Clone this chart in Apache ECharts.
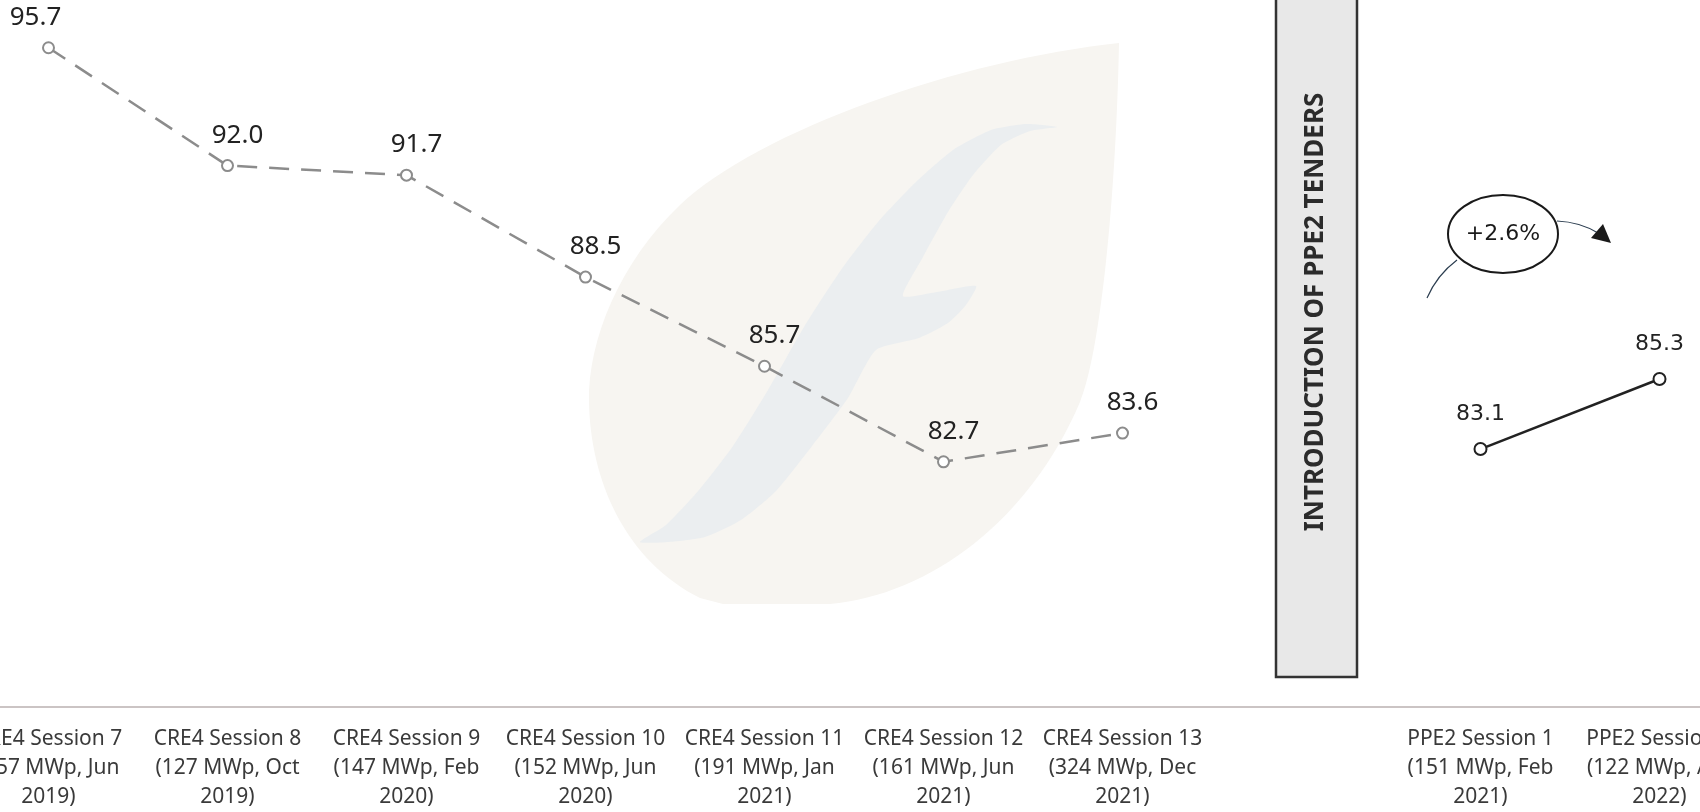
<!doctype html>
<html lang="en">
<head>
    <meta charset="UTF-8">
    <title>CRE4 / PPE2 sessions</title>
    <script src="https://cdn.jsdelivr.net/npm/echarts@6/dist/echarts.min.js"></script>
    <style>
        html, body { margin: 0; padding: 0; background: #fff; }
        #chart { width: 1700px; height: 812px; }
    </style>
</head>
<body>
<div id="chart"></div>
<script type="text/javascript">
    // tender sessions (the empty slot is where the PPE2 banner sits)
    const categories = [
        'CRE4 Session 7\n(157 MWp, Jun\n2019)',
        'CRE4 Session 8\n(127 MWp, Oct\n2019)',
        'CRE4 Session 9\n(147 MWp, Feb\n2020)',
        'CRE4 Session 10\n(152 MWp, Jun\n2020)',
        'CRE4 Session 11\n(191 MWp, Jan\n2021)',
        'CRE4 Session 12\n(161 MWp, Jun\n2021)',
        'CRE4 Session 13\n(324 MWp, Dec\n2021)',
        '',
        'PPE2 Session 1\n(151 MWp, Feb\n2021)',
        'PPE2 Session 2\n(122 MWp, Apr\n2022)'
    ];
    const cre4Values = [95.7, 92.0, 91.7, 88.5, 85.7, 82.7, 83.6, '-', '-', '-'];
    const ppe2Values = ['-', '-', '-', '-', '-', '-', '-', '-', 83.1, 85.3];
    const bannerText = 'INTRODUCTION OF PPE2 TENDERS';
    const changeText = '+2.6%';

    // leaf watermark outline
    echarts.graphic.registerShape('leaf', echarts.graphic.extendPath(
        'M1119 43 C 960 60, 760 130, 680 205 C 620 262, 588 340, 589 401 ' +
        'C 590 480, 625 560, 700 598 L 723 604 L 830 604 C 930 595, 1030 520, 1080 402 ' +
        'C 1100 355, 1116 200, 1119 43 Z', {}));

    let chart = echarts.init(document.getElementById('chart'));
    let fmt = function (p) { return Number(p.value).toFixed(1); };

    chart.setOption({
        backgroundColor: '#ffffff',
        animation: false,
        grid: { left: -41, top: 0, width: 1790, height: 707, outerBoundsMode: 'none', containLabel: false },
        xAxis: {
            type: 'category',
            data: categories,
            axisLine: { lineStyle: { color: '#cbc4c4', width: 2 } },
            axisTick: { show: false },
            axisLabel: {
                interval: 0,
                hideOverlap: false,
                margin: 18,
                color: '#3a3a3a',
                fontFamily: 'Noto Sans',
                fontSize: 21,
                lineHeight: 29
            }
        },
        yAxis: {
            type: 'value',
            min: 75,
            max: 97.2,
            show: false,
            splitLine: { show: false }
        },
        graphic: [
            {
                type: 'leaf', z: -20,
                shape: {},
                style: { fill: '#f7f5f1' }
            },
            {
                type: 'polygon', z: -19,
                shape: {
                    smooth: 0.2,
                    points: [[1057, 127], [1026, 124], [991, 130], [953, 150], [916, 182], [878, 222], [841, 270],
                        [804, 327], [768, 390], [733, 446], [699, 490], [666, 525], [640, 542],
                        [669, 542], [705, 537], [741, 520], [776, 491], [812, 446], [848, 398], [876, 350],
                        [919, 338], [948, 323], [966, 305], [976, 286], [937, 292], [903, 296],
                        [923, 257], [948, 212], [973, 175], [1001, 145], [1030, 131]]
                },
                style: { fill: '#ebeef0' }
            },
            {
                type: 'rect', z: 10,
                shape: { x: 1276, y: -5, width: 81, height: 682 },
                style: { fill: '#e8e8e8', stroke: '#333333', lineWidth: 2.5 }
            },
            {
                type: 'text', z: 11,
                x: 1316, y: 312, rotation: Math.PI / 2,
                style: {
                    text: bannerText, x: 0, y: 0,
                    align: 'center', verticalAlign: 'middle',
                    textAlign: 'center', textVerticalAlign: 'middle',
                    font: 'bold 26px "Noto Sans"', fill: '#2b2b2b'
                }
            },
            {
                type: 'bezierCurve', z: 10,
                shape: { x1: 1427, y1: 298, x2: 1457, y2: 260, cpx1: 1437, cpy1: 275 },
                style: { stroke: '#2c3e50', lineWidth: 1.2, fill: null }
            },
            {
                type: 'bezierCurve', z: 10,
                shape: { x1: 1557, y1: 221, x2: 1598, y2: 233, cpx1: 1580, cpy1: 222 },
                style: { stroke: '#2c3e50', lineWidth: 1.2, fill: null }
            },
            {
                type: 'polygon', z: 10,
                shape: { points: [[1611, 243], [1591, 238], [1603, 224]] },
                style: { fill: '#1a1a1a' }
            },
            {
                type: 'ellipse', z: 11,
                shape: { cx: 1503, cy: 234, rx: 55, ry: 39 },
                style: { fill: '#ffffff', stroke: '#1a1a1a', lineWidth: 2 }
            },
            {
                type: 'text', z: 12,
                x: 1503, y: 234,
                style: {
                    text: changeText, x: 0, y: 0,
                    align: 'center', verticalAlign: 'middle',
                    textAlign: 'center', textVerticalAlign: 'middle',
                    font: '22px "DejaVu Sans"', fill: '#1a1a1a'
                }
            }
        ],
        series: [
            {
                name: 'CRE4',
                type: 'line',
                data: cre4Values.map(function (v, i) {
                    return i === 0 ? { value: v, label: { offset: [-13, 0] } } : v;
                }),
                symbol: 'emptyCircle',
                symbolSize: 11,
                lineStyle: { color: '#8c8c8c', width: 2.5, type: [20, 12] },
                itemStyle: { color: '#8c8c8c', borderColor: '#8c8c8c', borderWidth: 1.8 },
                label: {
                    show: true, position: 'top', distance: 11, offset: [10, 0],
                    formatter: fmt, color: '#222222',
                    fontFamily: 'Noto Sans', fontSize: 26
                },
                z: 3
            },
            {
                name: 'PPE2',
                type: 'line',
                data: ppe2Values,
                symbol: 'emptyCircle',
                symbolSize: 12,
                lineStyle: { color: '#222222', width: 2.5 },
                itemStyle: { color: '#222222', borderColor: '#222222', borderWidth: 2 },
                label: {
                    show: true, position: 'top', distance: 17,
                    formatter: fmt, color: '#222222',
                    fontFamily: 'DejaVu Sans', fontSize: 22
                },
                z: 3
            }
        ]
    });
</script>
</body>
</html>
